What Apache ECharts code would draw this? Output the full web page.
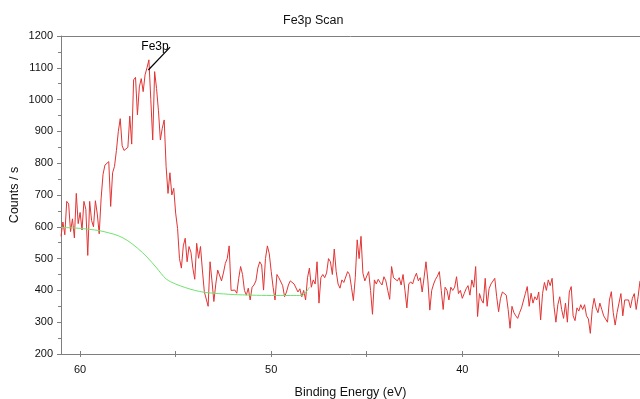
<!DOCTYPE html>
<html>
<head>
<meta charset="utf-8">
<script src="https://cdn.jsdelivr.net/npm/echarts@6/dist/echarts.min.js"></script>
<style>
  html, body { margin: 0; padding: 0; background: #fff; }
  #chart { width: 640px; height: 399px; }
</style>
</head>
<body>
<div id="chart"></div>
<script>
// Fe3p region scan: counts per second sampled every 0.1 eV, from 61.0 eV down to 30.7 eV
const scanStartEV = 61.0;
const scanStepEV = 0.1;

// 61.0 – 55.0 eV (rising edge and Fe3p peak)
const countsPeak = [
  570, 615, 575, 680, 672, 585, 625, 565, 705, 610,
  645, 590, 680, 655, 510, 680, 620, 600, 682, 640,
  578, 690, 765, 794, 790, 805, 664, 770, 790, 840,
  900, 940, 855, 840, 838, 850, 948, 860, 1062, 1070,
  952, 1040, 1066, 1025, 1078, 1100, 1125, 1000, 873, 1088,
  1035, 965, 873, 910, 936, 790, 705, 770, 700, 721,
  643
];
// 54.9 – 48.7 eV
const countsTail = [
  595, 500, 470, 540, 564, 490, 538, 520, 470, 435,
  548, 501, 538, 464, 396, 400, 350, 490, 430, 365,
  420, 464, 469, 430, 455, 485, 500, 540, 400, 396,
  401, 391, 438, 475, 450, 400, 385, 407, 370, 410,
  417, 430, 470, 490, 480, 401, 500, 540, 515, 460,
  410, 370, 450, 440, 443, 415, 380, 395, 417, 430,
  430, 420, 415
];
// 48.6 – 42.8 eV
const countsMid = [
  395, 405, 380, 400, 370, 440, 470, 410, 433, 420,
  490, 360, 440, 450, 440, 455, 500, 490, 450, 530,
  460, 420, 407, 433, 425, 430, 459, 450, 410, 368,
  440, 559, 500, 570, 454, 430, 445, 459, 400, 325,
  433, 420, 435, 425, 417, 443, 430, 400, 372, 475,
  440, 445, 430, 440, 417, 450, 400, 345, 420
];
// 42.7 – 30.7 eV
const countsLow = [
  427, 420, 440, 454, 430, 440, 395, 440, 490, 430,
  338, 400, 420, 435, 445, 459, 400, 340, 410, 400,
  370, 410, 400, 410, 443, 390, 400, 375, 390, 405,
  415, 385, 433, 410, 475, 318, 390, 370, 360, 438,
  350, 405, 420, 425, 438, 380, 333, 375, 395, 400,
  385, 340, 281, 350, 330, 320, 312, 330, 345, 350,
  390, 412, 350, 391, 360, 380, 370, 395, 307, 390,
  425, 400, 433, 415, 438, 350, 300, 355, 380, 340,
  312, 360, 300, 395, 412, 320, 305, 345, 335, 355,
  340, 355, 320, 310, 265, 340, 375, 345, 330, 360,
  340, 320, 310, 300, 370, 396, 330, 291, 330, 360,
  390, 320, 370, 375, 370, 345, 375, 390, 340, 380,
  430
];

// Shirley-type background under the peak
const backgroundEV = [61.0, 60.5, 60.0, 59.5, 59.0, 58.5, 58.0, 57.5, 57.0, 56.5, 56.0, 55.5,
                      55.0, 54.5, 54.0, 53.5, 53.0, 52.5, 52.0, 51.0, 50.0, 49.0, 48.4, 48.0];
const backgroundCounts = [598, 597, 595, 592, 588, 581, 572, 556, 533, 505, 471, 436,
                          420, 409, 400, 394, 391, 389, 387, 385, 384, 384, 384, 410];

// axis ticks
const xTickValues = [35, 40, 45, 50, 55, 60];
const xLabelValues = [40, 50, 60];
const yMin = 200, yMax = 1200, yStep = 100;
const xMin = 30.7, xMax = 61.0;

// peak annotation
const peakName = 'Fe3p';
const peakTip = [56.43, 1093];
const leaderEnd = [55.29, 1165];
const peakNamePos = [56.08, 1165];

const counts = countsPeak.concat(countsTail, countsMid, countsLow);
const scanData = counts.map((c, i) => [+(scanStartEV - i * scanStepEV).toFixed(1), c]);
const backgroundData = backgroundEV.map((e, i) => [e, backgroundCounts[i]]);

const FONT = '"Liberation Sans", Arial, sans-serif';
const AXIS_GRAY = '#7f7f7f';

const chart = echarts.init(document.getElementById('chart'), null, { renderer: 'canvas' });
chart.setOption({
  animation: false,
  backgroundColor: '#fff',
  title: {
    text: 'Fe3p Scan',
    left: 278, top: 9,
    textStyle: { fontFamily: FONT, fontSize: 12.5, fontWeight: 'normal', color: '#111' }
  },
  grid: { left: 61, right: 0, top: 36, bottom: 45, containLabel: false, outerBoundsMode: 'none' },
  xAxis: [
    {
      type: 'value', inverse: true, min: xMin, max: xMax, position: 'bottom',
      name: 'Binding Energy (eV)', nameLocation: 'middle', nameGap: 32,
      nameTextStyle: { fontFamily: FONT, fontSize: 12.5, color: '#111' },
      axisLine: { show: true, lineStyle: { color: AXIS_GRAY, width: 1 } },
      axisTick: { show: true, length: 3, customValues: xTickValues, lineStyle: { color: AXIS_GRAY } },
      axisLabel: { customValues: xLabelValues, margin: 10, fontFamily: FONT, fontSize: 11, color: '#111',
                   formatter: v => String(v) },
      splitLine: { show: false }
    },
    {
      type: 'value', inverse: true, min: xMin, max: xMax, position: 'bottom',
      axisLine: { show: false },
      axisTick: { show: true, inside: true, length: 3, customValues: xTickValues, lineStyle: { color: AXIS_GRAY } },
      axisLabel: { show: false },
      splitLine: { show: false }
    },
    {
      type: 'value', inverse: true, min: xMin, max: xMax, position: 'top',
      axisLine: { show: true, lineStyle: { color: AXIS_GRAY, width: 1 } },
      axisTick: { show: false }, axisLabel: { show: false }, splitLine: { show: false }
    }
  ],
  yAxis: {
    type: 'value', min: yMin, max: yMax, interval: yStep,
    name: 'Counts / s', nameLocation: 'middle', nameGap: 40, nameRotate: 90,
    nameMoveOverlap: false,
    nameTextStyle: { fontFamily: FONT, fontSize: 12.5, color: '#111' },
    axisLine: { show: true, lineStyle: { color: AXIS_GRAY, width: 1 } },
    axisTick: { show: true, length: 4, lineStyle: { color: AXIS_GRAY } },
    minorTick: { show: true, splitNumber: 2, length: 3, lineStyle: { color: AXIS_GRAY } },
    axisLabel: { margin: 8, fontFamily: FONT, fontSize: 11, color: '#111',
                 formatter: v => String(v) },
    splitLine: { show: false }
  },
  series: [
    {
      name: 'Fe3p Scan', type: 'line', xAxisIndex: 0, data: scanData,
      showSymbol: false, symbol: 'none',
      lineStyle: { color: '#e23434', width: 1 },
      itemStyle: { color: '#e23434' },
      markLine: {
        silent: true, symbol: ['none', 'none'], animation: false,
        label: { show: false },
        lineStyle: { color: '#000', width: 1.2, type: 'solid' },
        data: [[{ coord: peakTip }, { coord: leaderEnd }]]
      },
      markPoint: {
        silent: true, symbol: 'circle', symbolSize: 1,
        itemStyle: { color: 'rgba(0,0,0,0)' },
        label: { show: true, position: 'inside', formatter: peakName,
                 fontFamily: FONT, fontSize: 12, color: '#000' },
        data: [{ coord: peakNamePos }]
      }
    },
    {
      name: 'Background', type: 'line', xAxisIndex: 0, data: backgroundData,
      showSymbol: false, symbol: 'none', smooth: 0.3,
      lineStyle: { color: '#6ee46e', width: 1 },
      itemStyle: { color: '#6ee46e' }
    }
  ]
});
</script>
</body>
</html>
